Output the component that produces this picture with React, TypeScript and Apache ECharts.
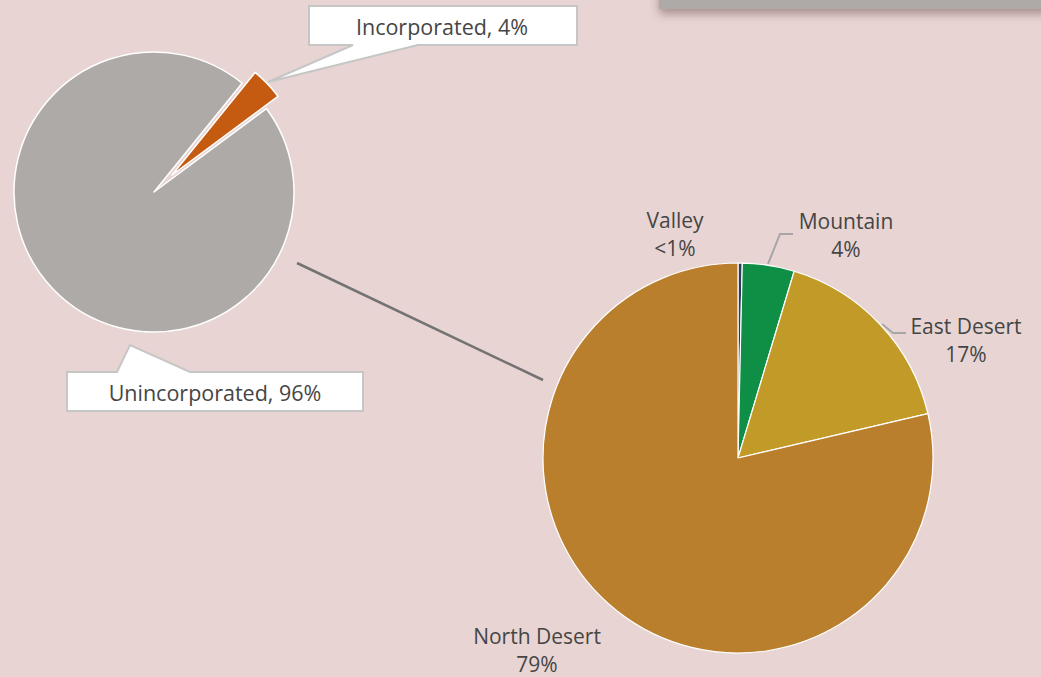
import React, { useEffect, useRef } from "react";
import * as echarts from "echarts";

// Small pie: incorporated vs unincorporated
const smallNames = ["Incorporated", "Unincorporated"];
const smallValues = [4, 96];
const smallPct = ["4%", "96%"];
const smallColors = ["#c55a11", "#aeaaa8"];

// Big pie: breakdown of unincorporated area
const bigNames = ["Valley", "Mountain", "East Desert", "North Desert"];
const bigValues = [0.35, 4.3, 16.7, 78.65];
const bigPct = ["<1%", "4%", "17%", "79%"];
const bigColors = ["#2e3b57", "#0e8f45", "#c29a27", "#ba7f2d"];

const FONT = "'Open Sans', 'Noto Sans', sans-serif";
const TEXT = "#454545";

export default function App() {
  const ref = useRef<HTMLDivElement>(null);

  useEffect(() => {
    if (!ref.current) return;
    const chart = echarts.init(ref.current, null, { renderer: "svg" });

    const bigLabelPos = [
      { x: 675, y: 234, line: null },
      { x: 846, y: 235, line: [[768, 264], [780, 234], [793, 234]] },
      { x: 966, y: 340, line: [[882, 324], [893, 333], [906, 333]] },
      { x: 537, y: 650, line: null },
    ];

    const option: any = {
      animation: false,
      backgroundColor: "#e8d5d3",
      series: [
        {
          type: "pie",
          center: [154, 192],
          radius: 140,
          startAngle: 51,
          clockwise: true,
          silent: true,
          label: { show: false },
          labelLine: { show: false },
          data: smallNames.map((n, i) => ({
            name: n,
            value: smallValues[i],
            itemStyle:
              i === 0
                ? { color: "transparent", borderWidth: 0 }
                : { color: smallColors[i], borderColor: "#ffffff", borderWidth: 1.5 },
          })),
        },
        {
          type: "pie",
          center: [172, 175],
          radius: 132,
          startAngle: 51,
          clockwise: true,
          silent: true,
          label: { show: false },
          labelLine: { show: false },
          data: smallNames.map((n, i) => ({
            name: n,
            value: smallValues[i],
            itemStyle:
              i === 0
                ? { color: smallColors[i], borderColor: "#ffffff", borderWidth: 1.5 }
                : { color: "transparent", borderWidth: 0 },
          })),
        },
        {
          type: "pie",
          center: [738, 458],
          radius: 195,
          startAngle: 90,
          clockwise: true,
          silent: true,
          itemStyle: { borderColor: "#ffffff", borderWidth: 1.2 },
          label: {
            show: true,
            position: "outside",
            fontFamily: FONT,
            fontSize: 21,
            lineHeight: 28,
            color: TEXT,
            align: "center",
            overflow: "none",
            formatter: (p: any) => `${p.name}\n${bigPct[p.dataIndex]}`,
          },
          labelLine: {
            show: true,
            lineStyle: { color: "#a6a6a6", width: 2 },
          },
          labelLayout: (p: any) => {
            const pos = bigLabelPos[p.dataIndex];
            const res: any = {
              x: pos.x,
              y: pos.y,
              align: "center",
              verticalAlign: "middle",
            };
            if (pos.line) res.labelLinePoints = pos.line;
            return res;
          },
          data: bigNames.map((n, i) => ({
            name: n,
            value: bigValues[i],
            itemStyle: { color: bigColors[i] },
            labelLine: { show: bigLabelPos[i].line !== null },
          })),
        },
      ],
      graphic: [
        {
          type: "rect",
          shape: { x: 659, y: -20, width: 420, height: 29 },
          style: {
            fill: "#aeaaa8",
            shadowBlur: 10,
            shadowOffsetY: 5,
            shadowColor: "rgba(90,60,60,0.45)",
          },
        },
        {
          type: "line",
          shape: { x1: 297, y1: 263, x2: 543, y2: 380 },
          style: { stroke: "#737373", lineWidth: 2.5 },
        },
        {
          type: "polygon",
          shape: {
            points: [
              [309, 6], [577, 6], [577, 45], [418, 45], [268, 82], [353, 45], [309, 45],
            ],
          },
          style: { fill: "#ffffff", stroke: "#c6c6c6", lineWidth: 2 },
        },
        {
          type: "text",
          x: 442,
          y: 26,
          style: {
            text: `${smallNames[0]}, ${smallPct[0]}`,
            font: `21.5px ${FONT}`,
            fill: TEXT,
            align: "center",
            verticalAlign: "middle",
          },
        },
        {
          type: "polygon",
          shape: {
            points: [
              [67, 372], [117, 372], [130, 345], [190, 372], [363, 372], [363, 411], [67, 411],
            ],
          },
          style: { fill: "#ffffff", stroke: "#c6c6c6", lineWidth: 2 },
        },
        {
          type: "text",
          x: 215,
          y: 392,
          style: {
            text: `${smallNames[1]}, ${smallPct[1]}`,
            font: `21.5px ${FONT}`,
            fill: TEXT,
            align: "center",
            verticalAlign: "middle",
          },
        },
      ],
    };

    chart.setOption(option);
    return () => chart.dispose();
  }, []);

  return (
    <div
      ref={ref}
      style={{ position: "fixed", left: 0, top: 0, width: 1041, height: 677 }}
    />
  );
}
